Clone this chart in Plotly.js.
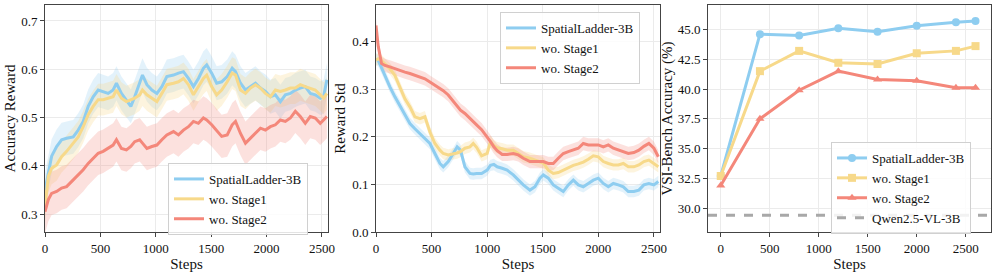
<!DOCTYPE html>
<html>
<head>
<meta charset="utf-8">
<script src="https://cdn.plot.ly/plotly-3.0.1.min.js"></script>
<style>html,body{margin:0;padding:0;background:#fff;}#chart{width:997px;height:273px;}</style>
</head>
<body>
<div id="chart"></div>
<script>
// ---------- Panel 1: Accuracy Reward ----------
const steps1 = [0,30,60,105,150,195,255,300,345,390,435,480,525,570,615,645,690,735,775,810,855,880,920,965,1010,1055,1100,1160,1205,1250,1295,1340,1385,1430,1460,1505,1550,1595,1645,1690,1720,1765,1810,1855,1900,1945,1990,2035,2080,2125,2170,2215,2260,2305,2350,2395,2440,2485,2515,2545];
const acc_ladder = [0.35,0.385,0.42,0.44,0.454,0.457,0.46,0.474,0.492,0.523,0.543,0.557,0.554,0.55,0.557,0.571,0.55,0.537,0.523,0.543,0.571,0.588,0.568,0.557,0.55,0.564,0.585,0.588,0.592,0.595,0.581,0.564,0.581,0.602,0.609,0.592,0.571,0.574,0.585,0.602,0.595,0.571,0.557,0.564,0.571,0.561,0.554,0.543,0.547,0.533,0.547,0.55,0.557,0.561,0.564,0.55,0.547,0.54,0.543,0.578];
const acc_stage1 = [0.316,0.378,0.395,0.402,0.419,0.43,0.447,0.46,0.481,0.506,0.523,0.537,0.537,0.54,0.543,0.557,0.54,0.533,0.537,0.54,0.547,0.557,0.547,0.54,0.533,0.55,0.568,0.571,0.574,0.581,0.568,0.547,0.564,0.581,0.588,0.564,0.547,0.557,0.574,0.592,0.588,0.557,0.55,0.561,0.568,0.561,0.55,0.543,0.557,0.554,0.557,0.561,0.561,0.568,0.564,0.561,0.557,0.547,0.54,0.55];
const acc_stage2 = [0.305,0.33,0.343,0.347,0.354,0.357,0.371,0.381,0.392,0.405,0.416,0.426,0.43,0.436,0.443,0.454,0.436,0.433,0.44,0.45,0.454,0.447,0.436,0.44,0.443,0.454,0.464,0.471,0.464,0.474,0.481,0.492,0.488,0.499,0.495,0.485,0.474,0.461,0.464,0.485,0.492,0.467,0.447,0.457,0.467,0.478,0.474,0.481,0.485,0.495,0.492,0.499,0.513,0.502,0.488,0.502,0.499,0.488,0.495,0.502];
const accBand = {ladder: 0.035, stage1: 0.033, stage2: 0.045};

// ---------- Panel 2: Reward Std ----------
const steps2 = [0,20,50,80,125,170,215,260,305,350,395,440,485,530,575,605,650,695,730,760,800,845,875,905,950,1000,1030,1060,1090,1135,1180,1235,1280,1325,1385,1430,1475,1505,1550,1595,1640,1685,1730,1775,1820,1865,1910,1955,2000,2045,2090,2135,2180,2225,2270,2320,2365,2410,2455,2500,2540];
const std_ladder = [0.364,0.36,0.345,0.328,0.305,0.284,0.266,0.249,0.228,0.217,0.207,0.196,0.186,0.165,0.144,0.137,0.148,0.165,0.179,0.172,0.137,0.123,0.122,0.123,0.123,0.13,0.14,0.142,0.137,0.134,0.13,0.12,0.11,0.099,0.088,0.095,0.113,0.12,0.113,0.099,0.092,0.085,0.099,0.109,0.099,0.095,0.102,0.109,0.113,0.102,0.095,0.102,0.099,0.095,0.085,0.085,0.088,0.099,0.102,0.099,0.106];
const std_stage1 = [0.361,0.364,0.36,0.354,0.343,0.329,0.305,0.28,0.263,0.242,0.238,0.242,0.21,0.186,0.172,0.165,0.162,0.164,0.166,0.169,0.176,0.179,0.186,0.178,0.16,0.165,0.19,0.182,0.177,0.175,0.172,0.172,0.165,0.158,0.155,0.151,0.148,0.145,0.13,0.123,0.125,0.13,0.135,0.14,0.143,0.147,0.153,0.16,0.158,0.148,0.144,0.141,0.141,0.144,0.137,0.137,0.141,0.148,0.151,0.144,0.137];
const std_stage2 = [0.434,0.39,0.354,0.35,0.347,0.343,0.34,0.336,0.333,0.329,0.326,0.322,0.315,0.308,0.301,0.297,0.288,0.275,0.265,0.256,0.249,0.238,0.232,0.225,0.215,0.2,0.19,0.179,0.171,0.163,0.163,0.165,0.162,0.155,0.148,0.148,0.148,0.148,0.144,0.144,0.155,0.165,0.169,0.172,0.176,0.186,0.183,0.183,0.183,0.179,0.183,0.176,0.172,0.169,0.165,0.167,0.172,0.18,0.186,0.176,0.158];
const stdBand = {ladder: 0.012, stage1: 0.012, stage2: 0.014};

// ---------- Panel 3: VSI-Bench Accuracy ----------
const steps3 = [0,400,800,1200,1600,2000,2400,2600];
const vsi_ladder = [32.7,44.6,44.5,45.1,44.8,45.3,45.6,45.7];
const vsi_stage1 = [32.7,41.5,43.2,42.2,42.1,43.0,43.2,43.6];
const vsi_stage2 = [31.9,37.5,39.9,41.5,40.8,40.7,40.1,40.1];
const qwenBaseline = 29.4;

const names = ['SpatialLadder-3B','wo. Stage1','wo. Stage2'];
const baselineName = 'Qwen2.5-VL-3B';
const colors = ['#8ecdf0','#f7d98a','#f4877a'];
const bandColors = ['rgba(142,205,240,0.25)','rgba(247,217,138,0.28)','rgba(244,135,122,0.25)'];

const FONT = 'Liberation Serif';
const W = 997, H = 273;
const px = v => v / W;
const py = v => (H - v) / H;

function bands(x, y, hw, fillc, xa, ya){
  const lo = y.map(v => v - hw), hi = y.map(v => v + hw);
  return [
    {x:x, y:lo, xaxis:xa, yaxis:ya, mode:'lines', line:{width:0, color:fillc}, showlegend:false, hoverinfo:'skip'},
    {x:x, y:hi, xaxis:xa, yaxis:ya, mode:'lines', line:{width:0, color:fillc}, fill:'tonexty', fillcolor:fillc, showlegend:false, hoverinfo:'skip'}
  ];
}
function line(x, y, color, name, xa, ya, leg){
  return {x:x, y:y, xaxis:xa, yaxis:ya, mode:'lines', name:name, line:{width:3, color:color}, legend:leg};
}

let data = [];
const p1 = [acc_ladder, acc_stage1, acc_stage2];
const b1 = [accBand.ladder, accBand.stage1, accBand.stage2];
const p2 = [std_ladder, std_stage1, std_stage2];
const b2 = [stdBand.ladder, stdBand.stage1, stdBand.stage2];
p1.forEach((s,i)=>{ data = data.concat(bands(steps1, s, b1[i], bandColors[i], 'x', 'y')); });
p2.forEach((s,i)=>{ data = data.concat(bands(steps2, s, b2[i], bandColors[i], 'x2', 'y2')); });
p1.forEach((s,i)=>{ data.push(line(steps1, s, colors[i], names[i], 'x', 'y', 'legend')); });
p2.forEach((s,i)=>{ data.push(line(steps2, s, colors[i], names[i], 'x2', 'y2', 'legend2')); });

const x3range = [-130, 2758];
const p3 = [vsi_ladder, vsi_stage1, vsi_stage2];
const syms = ['circle','square','triangle-up'];
p3.forEach((s,i)=>{
  data.push({x:steps3, y:s, xaxis:'x3', yaxis:'y3', mode:'lines+markers', name:names[i], legend:'legend3',
    line:{width:3, color:colors[i]}, marker:{symbol:syms[i], size:8, color:colors[i]}});
});
data.push({x:x3range, y:[qwenBaseline, qwenBaseline], xaxis:'x3', yaxis:'y3', mode:'lines', name:baselineName, legend:'legend3',
  line:{width:3, color:'#a8a8a8', dash:'dash'}});

const yDom = [py(232), py(5)];
const tickf = {family:FONT, size:13, color:'#111'};
const titf = {family:FONT, size:15, color:'#111'};
function xax(dom, range, anchor){
  return {domain:dom, range:range, anchor:anchor, showline:true, mirror:true, linecolor:'#444', linewidth:1,
    showgrid:true, gridcolor:'#ebebeb', zeroline:false, ticks:'outside', ticklen:4, tickcolor:'#444',
    tickvals:[0,500,1000,1500,2000,2500], tickfont:tickf, title:{text:'Steps', font:titf, standoff:2}};
}
function yax(range, anchor, tv, fmt, title, so){
  return {domain:yDom, range:range, anchor:anchor, showline:true, mirror:true, linecolor:'#444', linewidth:1,
    showgrid:true, gridcolor:'#ebebeb', zeroline:false, ticks:'outside', ticklen:4, tickcolor:'#444',
    tickvals:tv, tickformat:fmt, tickfont:tickf, title:{text:title, font:titf, standoff:so}};
}
const legBase = {bgcolor:'rgba(255,255,255,0.85)', bordercolor:'#d0d0d0', borderwidth:1, traceorder:'normal',
  font:{family:FONT, size:13, color:'#111'}, xanchor:'left', yanchor:'top', tracegroupgap:0, itemwidth:30};

const layout = {
  width:W, height:H, margin:{l:0,r:0,t:0,b:0}, paper_bgcolor:'#fff', plot_bgcolor:'#fff',
  font:{family:FONT},
  xaxis: xax([px(45), px(328)], [0, 2555], 'y'),
  yaxis: yax([0.263, 0.733], 'x', [0.3,0.4,0.5,0.6,0.7], '.1f', 'Accuracy Reward', 1),
  xaxis2: xax([px(376), px(660)], [0, 2555], 'y2'),
  yaxis2: yax([0, 0.477], 'x2', [0,0.1,0.2,0.3,0.4], '.1f', 'Reward Std', 2),
  xaxis3: xax([px(708), px(991)], x3range, 'y3'),
  yaxis3: yax([28.0, 47.05], 'x3', [30,32.5,35,37.5,40,42.5,45], '.1f', 'VSI-Bench Accuracy (%)', 1),
  legend: Object.assign({}, legBase, {x:px(168), y:py(163)}),
  legend2: Object.assign({}, legBase, {x:px(500), y:py(12)}),
  legend3: Object.assign({}, legBase, {x:px(831), y:py(142)}),
};
Plotly.newPlot('chart', data, layout, {displayModeBar:false, staticPlot:true});
</script>
</body>
</html>
